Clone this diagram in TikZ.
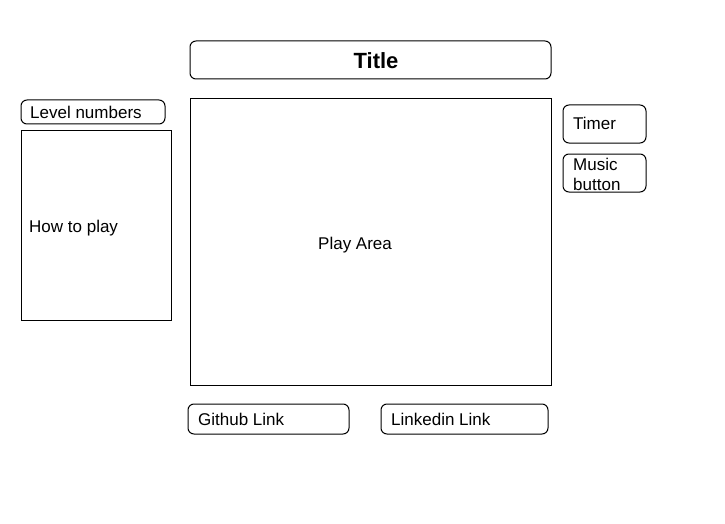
\documentclass[tikz,border=0pt]{standalone}
\usepackage{fontspec}
\setmainfont{Liberation Sans}
\begin{document}
\begin{tikzpicture}[x=1pt,y=-1pt,
   panel/.style={draw=black, line width=1pt},
   btn/.style={draw=black, line width=1pt, rounded corners=6pt},
   lbl/.style={font=\fontsize{17}{20}\selectfont, anchor=base west, inner sep=0pt}]
   \useasboundingbox (0,0) rectangle (725,524);
   % title bar
   \draw[btn] (190,41) rectangle (551,79);
   \node[lbl, anchor=base, font=\fontsize{22}{24}\selectfont\bfseries] (title) at (376,69) {Title};
   % left column
   \draw[btn] (21,100) rectangle (165,124);
   \node[lbl] (levels) at (30,118) {Level numbers};
   \draw[panel] (21,131) rectangle (171,320);
   \node[lbl] (howto) at (29,232) {How to play};
   % play area
   \draw[panel] (190,99) rectangle (551,385);
   \node[lbl] (play) at (318,249) {Play Area};
   % right column
   \draw[btn] (563,105) rectangle (646,143);
   \node[lbl] (timer) at (573,130) {Timer};
   \draw[btn] (563,154) rectangle (646,192);
   \node[lbl, anchor=west, align=left] (music) at (573,174) {Music\\button};
   % links
   \draw[btn] (188,404) rectangle (349,434);
   \node[lbl] (github) at (198,425) {Github Link};
   \draw[btn] (381,404) rectangle (548,434);
   \node[lbl] (linkedin) at (391,425) {Linkedin Link};
\end{tikzpicture}
\end{document}
